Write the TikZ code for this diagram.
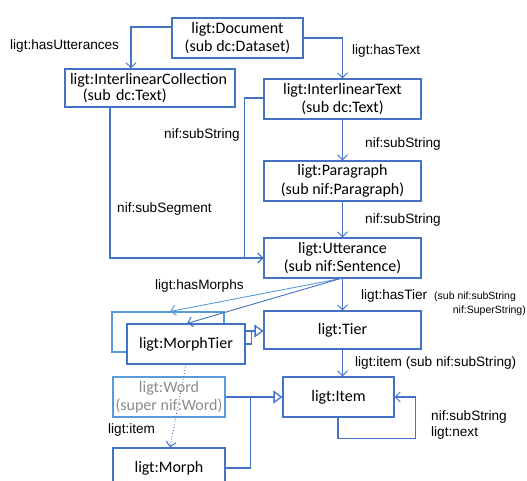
\documentclass[tikz,border=0pt]{standalone}
\usepackage{fontspec}
\setmainfont{Carlito}
\newfontfamily\labelfont{Liberation Sans}
\usetikzlibrary{arrows.meta}
\definecolor{edge}{HTML}{4472C4}
\definecolor{edgelight}{HTML}{5B9BD5}
\definecolor{greytext}{HTML}{8C8C8C}
\begin{document}
\begin{tikzpicture}[x=1pt,y=-1pt,
  box/.style={draw=edge,line width=1.1pt,fill=white,inner sep=0pt,align=center,
    font=\fontsize{16}{18.5}\selectfont},
  lab/.style={inner sep=0pt,font=\labelfont\fontsize{13.6}{16}\selectfont},
  small/.style={inner sep=0pt,font=\labelfont\fontsize{10.5}{12}\selectfont},
  conn/.style={draw=edge,line width=1.1pt},
  barb/.style={-{Straight Barb[length=5pt,width=10pt,line width=1pt]}},
  inherit/.style={-{Triangle[open,length=9pt,width=13pt,line width=1.3pt,fill=white]}}]
\useasboundingbox (0,0) rectangle (527,480);
\clip (0,0) rectangle (527,480);

% classes
\node[box,minimum width=131pt,minimum height=40pt] (doc) at (237.5,38) {ligt:Document\\(sub dc:Dataset)};
\node[box,minimum width=170pt,minimum height=38pt,text width=160pt,align=left,font=\fontsize{16}{15.5}\selectfont] (icoll) at (150,88) {ligt:InterlinearCollection\\\hspace*{0.8em}(sub dc:Text)};
\node[box,minimum width=157pt,minimum height=40pt] (itext) at (342.5,99) {ligt:InterlinearText\\(sub dc:Text)};
\node[box,minimum width=157pt,minimum height=40pt] (para) at (342.5,181) {ligt:Paragraph\\(sub nif:Paragraph)};
\node[box,minimum width=157pt,minimum height=40pt] (utter) at (342.5,258) {ligt:Utterance\\(sub nif:Sentence)};
\node[box,minimum width=157pt,minimum height=38pt] (tier) at (342.5,330) {ligt:Tier};
\node[box,minimum width=111pt,minimum height=40pt] (item) at (338.5,397) {ligt:Item};

% tier box lying behind ligt:MorphTier
\node[box,draw=edgelight,minimum width=112pt,minimum height=40pt] (wtier) at (168,332) {};
\draw[conn] ([yshift=1pt]wtier.east) -- ++(27,0) coordinate (gen);
\node[box,minimum width=118pt,minimum height=40pt] (mtier) at (186,344) {ligt:MorphTier};

\node[box,draw=edgelight,text=greytext,minimum width=112pt,minimum height=40pt] (word) at (169,397) {ligt:Word\\(super nif:Word)};
\node[box,minimum width=112pt,minimum height=40pt] (morph) at (169,468) {ligt:Morph};

% connectors
\draw[conn,barb] ([yshift=11pt]doc.west) -| ([xshift=-19pt]icoll.north);
\draw[conn,barb] (doc.east) -| (itext.north);
\draw[conn,barb] (itext.south) -- (para.north);
\draw[conn,barb] (para.south) -- (utter.north);
\draw[conn,barb] ([yshift=1pt]itext.west) -- ++(-19,0) |- (utter.west);
\draw[conn,barb] ([xshift=-40pt]icoll.south) |- (utter.west);
\draw[conn,barb] (utter.south) -- (tier.north);
\draw[conn,barb] (tier.south) -- (tier.south |- item.north);
\draw[conn,barb] ([xshift=-0.5pt]item.south) -- ++(0,21) -| ([xshift=21pt]item.east) -- (item.east);

\draw[draw=edgelight,line width=0.9pt,barb] ([xshift=-2pt]utter.south) -- ([xshift=2pt]wtier.north);
\draw[draw=edge,line width=0.9pt,barb] ([xshift=-2pt]utter.south) -- ([xshift=1pt]mtier.north);

\draw[conn] (mtier.east) -- (mtier.east -| gen) -- (gen);
\draw[conn,inherit] (gen) -- (tier.west |- gen);

\draw[conn] (morph.east) -| ([xshift=25pt]word.east);
\draw[conn,inherit] (word.east) -- (item.west);

\draw[draw=edge,line width=0.9pt,dotted,barb] (mtier.south) -- ([xshift=1pt]morph.north);

% property labels
\node[lab,anchor=west] (l1) at (10,46) {ligt:hasUtterances};
\node[lab,anchor=west] (l2) at (352,51) {ligt:hasText};
\node[lab,anchor=west] (l3) at (365,144) {nif:subString};
\node[lab,anchor=west] (l4) at (365,220) {nif:subString};
\node[lab,anchor=east] (l5) at (240,135) {nif:subString};
\node[lab,anchor=west] (l6) at (117,209) {nif:subSegment};
\node[lab,anchor=west] (l7) at (155,286) {ligt:hasMorphs};
\node[lab,anchor=west] (l8) at (361,296) {ligt:hasTier};
\node[small,anchor=west] (l9) at (434,297) {(sub nif:subString};
\node[small,anchor=east] (l10) at (526,311) {nif:SuperString)};
\node[lab,anchor=west] (l11) at (355,363) {ligt:item (sub nif:subString)};
\node[lab,anchor=west,align=left] (l12) at (431,425) {nif:subString\\ligt:next};
\node[lab,anchor=west] (l13) at (108,430) {ligt:item};
\end{tikzpicture}
\end{document}
